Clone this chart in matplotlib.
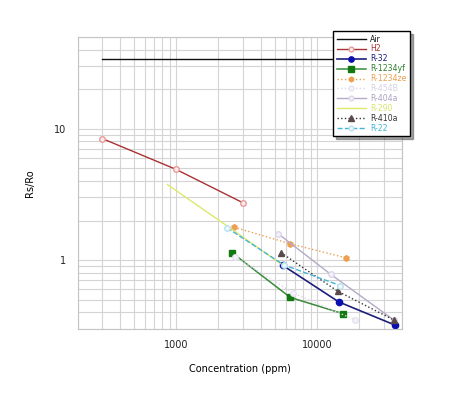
import matplotlib
matplotlib.use("Agg")
import matplotlib.pyplot as plt
from matplotlib.ticker import LogLocator, FixedLocator, FixedFormatter, NullFormatter

# Rs/Ro vs concentration for each gas
air_x = [300, 37000]
air_y = [34, 34]
h2_x = [300, 1000, 3000]
h2_y = [8.4, 4.9, 2.72]
r32_x = [5730, 14300, 35800]
r32_y = [0.91, 0.48, 0.32]
r1234yf_x = [2490, 6460, 15400]
r1234yf_y = [1.14, 0.52, 0.39]
r1234ze_x = [2580, 6460, 16100]
r1234ze_y = [1.78, 1.33, 1.04]
r454b_x = [2620, 6800, 18700]
r454b_y = [1.06, 0.56, 0.35]
r404a_x = [5330, 12500, 35100]
r404a_y = [1.58, 0.78, 0.35]
r290_x = [870, 2300, 5500]
r290_y = [3.75, 1.82, 0.94]
r410a_x = [5540, 14000, 35100]
r410a_y = [1.14, 0.58, 0.35]
r22_x = [2300, 5800, 14600]
r22_y = [1.76, 0.92, 0.64]

series = [
    ("Air", air_x, air_y, dict(color="#111111", ls="-", lw=1.0)),
    ("H2", h2_x, h2_y, dict(color="#a83232", ls="-", lw=1.0, marker="o", ms=4,
                            mfc="#fbecec", mec="#e89a9a")),
    ("R-32", r32_x, r32_y, dict(color="#1c1f7a", ls="-", lw=1.2, marker="o", ms=4.5,
                                mfc="#0a10b0", mec="#0a10b0")),
    ("R-1234yf", r1234yf_x, r1234yf_y, dict(color="#3a8a3a", ls="-", lw=1.1, marker="s", ms=4.5,
                                            mfc="#107a10", mec="#107a10")),
    ("R-1234ze", r1234ze_x, r1234ze_y, dict(color="#e8a050", ls=":", lw=1.0, marker="h", ms=4,
                                            mfc="#eea050", mec="#eea050")),
    ("R-454B", r454b_x, r454b_y, dict(color="#dcd6ea", ls=":", lw=1.0, marker="o", ms=4,
                                      mfc="#f6f4fa", mec="#e6e2f0")),
    ("R-404a", r404a_x, r404a_y, dict(color="#b4aac8", ls="-", lw=1.0, marker="o", ms=4,
                                      mfc="#f4f2f8", mec="#dcd6ea")),
    ("R-290", r290_x, r290_y, dict(color="#dde86a", ls="-", lw=1.0)),
    ("R-410a", r410a_x, r410a_y, dict(color="#333333", ls=":", lw=1.0, marker="^", ms=4.5,
                                      mfc="#5a4a4a", mec="#5a4a4a")),
    ("R-22", r22_x, r22_y, dict(color="#44b4d6", ls="--", lw=1.0, marker="o", ms=4,
                                mfc="#eef8fc", mec="#b8e2f0")),
]

text_colors = ["#111111", "#a83232", "#1c1f7a", "#2e7d2e", "#e8a050",
               "#d8d2e6", "#aca2c2", "#d8e470", "#333333", "#44b4d6"]

fig = plt.figure(figsize=(4.7, 4.0), dpi=100)
ax = fig.add_axes([0.165, 0.178, 0.69, 0.73])

for name, xs, ys, style in series:
    ax.plot(xs, ys, label=name, **style)

ax.set_xscale("log")
ax.set_yscale("log")
ax.set_xlim(200, 40000)
ax.set_ylim(0.3, 50)

ax.xaxis.set_major_locator(FixedLocator([1000, 10000]))
ax.xaxis.set_major_formatter(FixedFormatter(["1000", "10000"]))
ax.xaxis.set_minor_locator(LogLocator(base=10, subs=range(2, 10), numticks=20))
ax.xaxis.set_minor_formatter(NullFormatter())
ax.yaxis.set_major_locator(FixedLocator([1, 10]))
ax.yaxis.set_major_formatter(FixedFormatter(["1", "10"]))
ax.yaxis.set_minor_locator(LogLocator(base=10, subs=range(2, 10), numticks=20))
ax.yaxis.set_minor_formatter(NullFormatter())

ax.grid(True, which="both", color="#d4d4d4", lw=0.8)
ax.set_axisbelow(True)
ax.tick_params(which="both", length=0, labelsize=7, colors="#222222", pad=8)
for sp in ax.spines.values():
    sp.set_color("#c4c4c4")

ax.set_xlabel("Concentration (ppm)", fontsize=7, labelpad=10)
ax.set_ylabel("Rs/Ro", fontsize=7, labelpad=14)

leg = ax.legend(loc="upper right", bbox_to_anchor=(0.872, 0.9225),
                bbox_transform=fig.transFigure, borderaxespad=0,
                fontsize=5.6, labelspacing=0.12, handlelength=3.8,
                handletextpad=0.5, borderpad=0.45, fancybox=False,
                shadow=True, framealpha=1, edgecolor="black", markerscale=0.85)
leg.get_frame().set_linewidth(1.0)
for txt, c in zip(leg.get_texts(), text_colors):
    txt.set_color(c)

fig.savefig("out.png", dpi=100)
